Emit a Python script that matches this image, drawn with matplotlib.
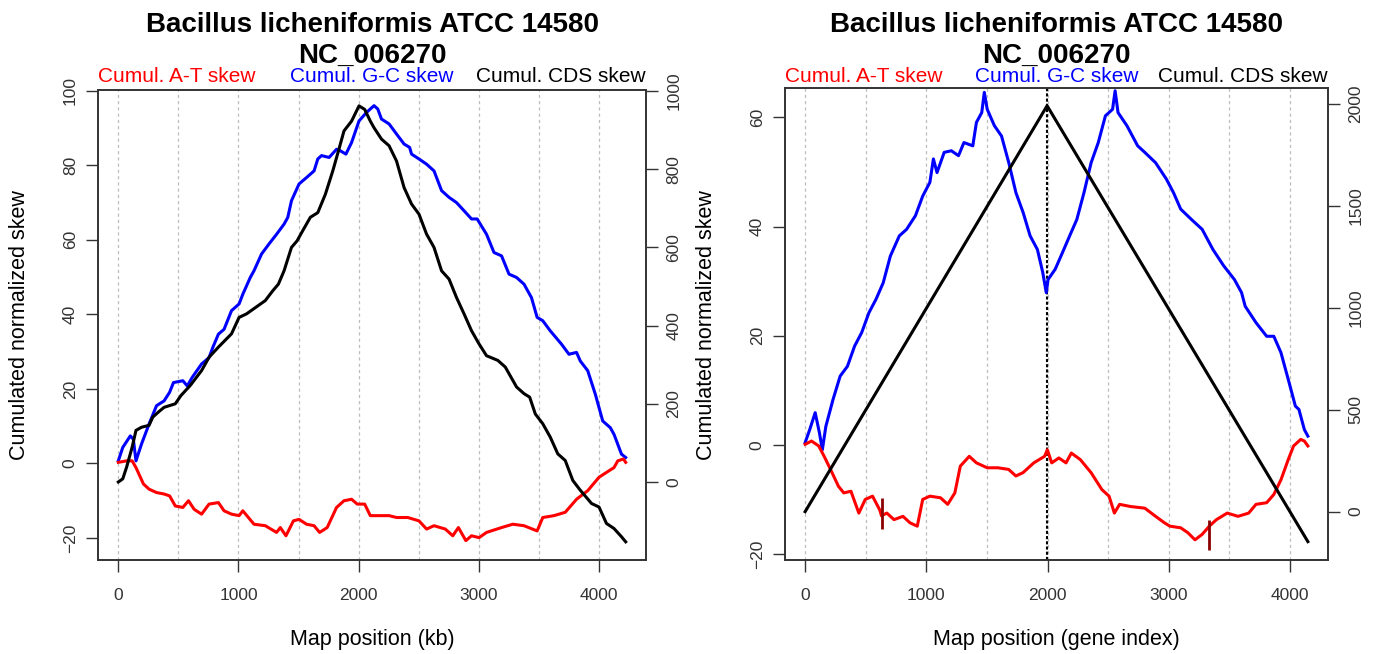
import matplotlib
matplotlib.use("Agg")
import matplotlib.pyplot as plt

plt.rcParams['font.family'] = ['Liberation Sans', 'DejaVu Sans']

title_lines = ["Bacillus licheniformis ATCC 14580", "NC_006270"]
series_names = ["Cumul. A-T skew", "Cumul. G-C skew", "Cumul. CDS skew"]
series_colors = ["#FF0000", "#0000FF", "#000000"]
y_label = "Cumulated normalized skew"
x_labels = ["Map position (kb)", "Map position (gene index)"]

# left panel: map position in kb
kb_gc = [0, 37, 100, 125, 147, 193, 256, 318, 381, 427, 459, 537, 574, 615, 693, 755, 786, 833,
         880, 942, 1005, 1036, 1098, 1129, 1192, 1254, 1317, 1379, 1410, 1441, 1504, 1566, 1629,
         1660, 1691, 1754, 1816, 1847, 1894, 1941, 2003, 2066, 2128, 2159, 2190, 2253, 2315, 2378,
         2424, 2440, 2502, 2565, 2627, 2690, 2752, 2814, 2877, 2939, 2986, 3064, 3126, 3189, 3251,
         3314, 3376, 3438, 3485, 3532, 3594, 3688, 3750, 3813, 3844, 3906, 3969, 4031, 4094, 4125,
         4187, 4222]
gc_kb = [0.7, 4.3, 7.4, 6.5, 0.7, 5.2, 10.6, 15.5, 16.8, 19.1, 21.7, 22.2, 20.8, 23.1, 26.7, 28.4,
         31.1, 34.7, 36.0, 41.0, 42.8, 45.4, 49.9, 51.7, 56.2, 58.9, 61.5, 64.2, 66.0, 70.5, 75.0,
         76.7, 78.5, 81.7, 82.6, 82.1, 84.3, 83.9, 83.0, 86.1, 91.9, 94.2, 96.0, 95.1, 92.4, 91.1,
         88.4, 85.7, 84.8, 83.0, 81.7, 80.3, 78.5, 73.2, 71.4, 70.0, 67.8, 65.6, 65.6, 61.5, 56.6,
         55.7, 50.8, 49.9, 48.1, 44.5, 39.2, 38.3, 35.6, 32.0, 29.3, 29.8, 27.5, 24.9, 18.6, 11.4,
         9.6, 7.8, 2.5, 1.6]

kb_cds = [0, 37, 69, 115, 147, 193, 256, 287, 334, 381, 474, 521, 599, 693, 755, 833, 942, 1005,
          1067, 1145, 1223, 1285, 1332, 1379, 1441, 1488, 1535, 1598, 1660, 1723, 1785, 1832, 1878,
          1941, 2003, 2050, 2097, 2128, 2190, 2253, 2315, 2378, 2440, 2502, 2565, 2627, 2690, 2752,
          2814, 2877, 2939, 3002, 3064, 3158, 3220, 3314, 3376, 3423, 3470, 3532, 3594, 3657, 3719,
          3782, 3844, 3938, 4000, 4062, 4125, 4187, 4222]
cds_kb = [0, 8, 38, 89, 132, 140, 145, 166, 179, 191, 200, 221, 247, 285, 319, 345, 379, 421, 430,
          447, 464, 489, 506, 540, 600, 617, 643, 677, 689, 736, 796, 847, 898, 923, 962, 953, 923,
          906, 877, 860, 821, 753, 711, 685, 634, 600, 540, 519, 472, 430, 387, 353, 323, 311, 294,
          243, 226, 217, 174, 149, 115, 72, 55, 4, -21, -55, -64, -106, -119, -140, -153]

kb_at = [0, 69, 115, 147, 209, 256, 318, 381, 427, 474, 537, 584, 631, 693, 755, 833, 880, 942,
         1005, 1036, 1129, 1223, 1317, 1348, 1395, 1457, 1504, 1566, 1629, 1675, 1738, 1816, 1878,
         1941, 1988, 2050, 2097, 2159, 2253, 2315, 2409, 2502, 2565, 2627, 2721, 2783, 2830, 2892,
         2939, 3002, 3064, 3189, 3282, 3376, 3485, 3532, 3625, 3719, 3813, 3906, 4000, 4062, 4125,
         4156, 4203, 4222]
at_kb = [0.3, 0.7, 0.7, -1.1, -5.5, -6.9, -7.8, -8.2, -8.7, -11.4, -11.8, -10.0, -12.3, -13.6,
         -10.9, -10.5, -12.7, -13.6, -14.0, -12.7, -16.3, -16.7, -18.5, -17.2, -19.4, -15.4, -15.0,
         -16.3, -16.7, -18.5, -17.2, -11.8, -10.0, -9.6, -10.9, -10.9, -14.0, -14.0, -14.0, -14.5,
         -14.5, -15.4, -17.6, -16.7, -17.6, -19.4, -17.2, -20.7, -19.4, -19.9, -18.5, -17.2, -16.3,
         -16.7, -18.1, -14.5, -14.0, -13.1, -9.6, -7.3, -3.7, -2.4, -1.1, 0.7, 1.2, 0.3]

# right panel: map position as gene index
gene_gc = [0, 38, 83, 118, 142, 171, 230, 289, 349, 408, 467, 526, 585, 644, 703, 777, 837, 910,
           970, 1029, 1058, 1088, 1147, 1206, 1265, 1310, 1383, 1413, 1457, 1478, 1502, 1561, 1620,
           1680, 1739, 1798, 1856, 1916, 1960, 1989, 2004, 2063, 2122, 2182, 2241, 2300, 2359, 2418,
           2477, 2536, 2557, 2581, 2654, 2743, 2802, 2891, 2980, 3039, 3098, 3187, 3275, 3364, 3453,
           3541, 3600, 3630, 3719, 3807, 3866, 3925, 3985, 4044, 4073, 4118, 4147]
gc_gene = [0.4, 2.8, 5.9, 2.2, -0.9, 3.4, 8.3, 12.6, 14.4, 18.1, 20.6, 24.2, 26.7, 29.7, 34.6,
           38.3, 39.5, 42.0, 45.6, 48.1, 52.4, 49.9, 53.6, 53.9, 53.0, 55.4, 54.8, 59.1, 60.9, 64.6,
           61.5, 58.5, 56.6, 51.7, 46.2, 42.6, 38.3, 35.8, 31.6, 27.9, 30.3, 32.2, 35.2, 38.3, 41.3,
           46.2, 51.7, 55.4, 60.3, 61.5, 64.9, 60.9, 58.5, 54.8, 53.6, 51.7, 48.7, 46.2, 43.2, 41.3,
           39.5, 35.8, 32.8, 30.3, 27.9, 25.4, 22.4, 19.9, 19.9, 16.9, 12.0, 7.1, 6.5, 2.8, 1.6]

gene_cds = [0, 1996, 4147]
cds_gene = [0, 1990, -147]

gene_at = [0, 53, 112, 157, 216, 275, 319, 378, 443, 496, 556, 615, 630, 674, 733, 807, 866, 925,
           970, 1029, 1117, 1176, 1235, 1280, 1354, 1413, 1502, 1590, 1679, 1738, 1797, 1886, 1975,
           1998, 2034, 2093, 2152, 2196, 2270, 2359, 2448, 2507, 2551, 2594, 2684, 2802, 2891, 2965,
           3009, 3098, 3157, 3216, 3275, 3334, 3393, 3482, 3571, 3659, 3719, 3807, 3866, 3925, 3985,
           4029, 4088, 4118, 4147]
at_gene = [0.1, 0.7, -0.2, -2.1, -4.8, -7.6, -8.8, -8.5, -12.5, -10.0, -9.4, -11.9, -13.0, -12.5,
           -13.7, -13.1, -14.3, -14.9, -10.0, -9.4, -9.7, -10.9, -8.8, -3.9, -2.1, -3.3, -4.2, -4.2,
           -4.5, -5.7, -5.1, -3.3, -2.1, -0.9, -3.3, -2.4, -3.3, -1.5, -2.7, -5.1, -8.2, -9.4, -12.5,
           -10.9, -11.3, -11.6, -13.1, -14.3, -14.9, -15.2, -16.1, -17.4, -16.4, -14.9, -13.7, -12.5,
           -13.1, -12.5, -10.9, -10.6, -9.1, -6.4, -2.7, -0.2, 1.0, 0.7, -0.2]

# dark red marks on the A-T curve (gene index, low, high)
mark_gene = [630, 3334]
mark_low = [-15.5, -19.2]
mark_high = [-9.7, -13.7]
origin_gene = 1996

W, H = 1384, 654
fig = plt.figure(figsize=(W / 100, H / 100), dpi=100)


def box(x0, y0, x1, y1):
    return [x0 / W, 1 - y1 / H, (x1 - x0) / W, (y1 - y0) / H]


def setup(ax, xlim, ylim, ylim_r, yticks, rticks):
    ax.set_xlim(xlim)
    ax.set_ylim(ylim)
    for x in range(0, 4001, 500):
        ax.axvline(x, color="#BDBDBD", lw=0.9, ls=(0, (2.5, 2.5)), zorder=0)
    ax.set_xticks([0, 1000, 2000, 3000, 4000])
    ax.set_yticks(yticks)
    ax.tick_params(direction="out", length=8.5, width=1, colors="#333333", labelsize=12.5)
    ax.tick_params(axis="x", pad=12)
    ax.tick_params(axis="y", pad=6)
    plt.setp(ax.get_yticklabels(), rotation=90, va="center")
    for s in ax.spines.values():
        s.set_color("#333333")
        s.set_linewidth(1.2)
    axr = ax.twinx()
    axr.set_ylim(ylim_r)
    axr.set_yticks(rticks)
    axr.tick_params(direction="out", length=8.5, width=1, colors="#333333", labelsize=12.5, pad=6)
    plt.setp(axr.get_yticklabels(), rotation=90, va="center")
    for s in axr.spines.values():
        s.set_color("#333333")
        s.set_linewidth(1.2)
    return axr


def texts(x0, x1, xlabel, ylab_x):
    xc = (x0 + x1) / 2
    fig.text(xc / W, 1 - 25 / H, title_lines[0], ha="center", va="center", fontsize=20, fontweight="bold")
    fig.text(xc / W, 1 - 56 / H, title_lines[1], ha="center", va="center", fontsize=20, fontweight="bold")
    fig.text(x0 / W, 1 - 77 / H, series_names[0], color=series_colors[0], ha="left", va="center", fontsize=15)
    fig.text(xc / W, 1 - 77 / H, series_names[1], color=series_colors[1], ha="center", va="center", fontsize=15)
    fig.text(x1 / W, 1 - 77 / H, series_names[2], color=series_colors[2], ha="right", va="center", fontsize=15)
    fig.text(xc / W, 1 - 640 / H, xlabel, ha="center", va="center", fontsize=15.5)
    fig.text(ylab_x / W, 1 - 325 / H, y_label, ha="center", va="center", rotation=90, fontsize=15.5)


# left panel
ax1 = fig.add_axes(box(98, 90, 646, 560))
ax1r = setup(ax1, (-169, 4391), (-25.9, 100.2), (-199.5, 1002.6),
             [-20, 0, 20, 40, 60, 80, 100], [0, 200, 400, 600, 800, 1000])
ax1.plot(kb_gc, gc_kb, color=series_colors[1], lw=2.2)
ax1.plot(kb_at, at_kb, color=series_colors[0], lw=2.2)
ax1r.plot(kb_cds, cds_kb, color=series_colors[2], lw=2.2)
texts(98, 646, x_labels[0], 20)

# right panel
ax2 = fig.add_axes(box(785, 88, 1328, 560))
ax2r = setup(ax2, (-166, 4313), (-21.1, 65.4), (-237, 2077),
             [-20, 0, 20, 40, 60], [0, 500, 1000, 1500, 2000])
ax2.axvline(origin_gene, color="black", lw=1.5, ls=(0, (1.5, 1)), zorder=1)
ax2.plot(gene_gc, gc_gene, color=series_colors[1], lw=2.2)
ax2.plot(gene_at, at_gene, color=series_colors[0], lw=2.2)
ax2.vlines(mark_gene, mark_low, mark_high, color="#8B0000", lw=2)
ax2r.plot(gene_cds, cds_gene, color=series_colors[2], lw=2.2)
texts(785, 1328, x_labels[1], 706)

fig.savefig("out.png", dpi=100)
